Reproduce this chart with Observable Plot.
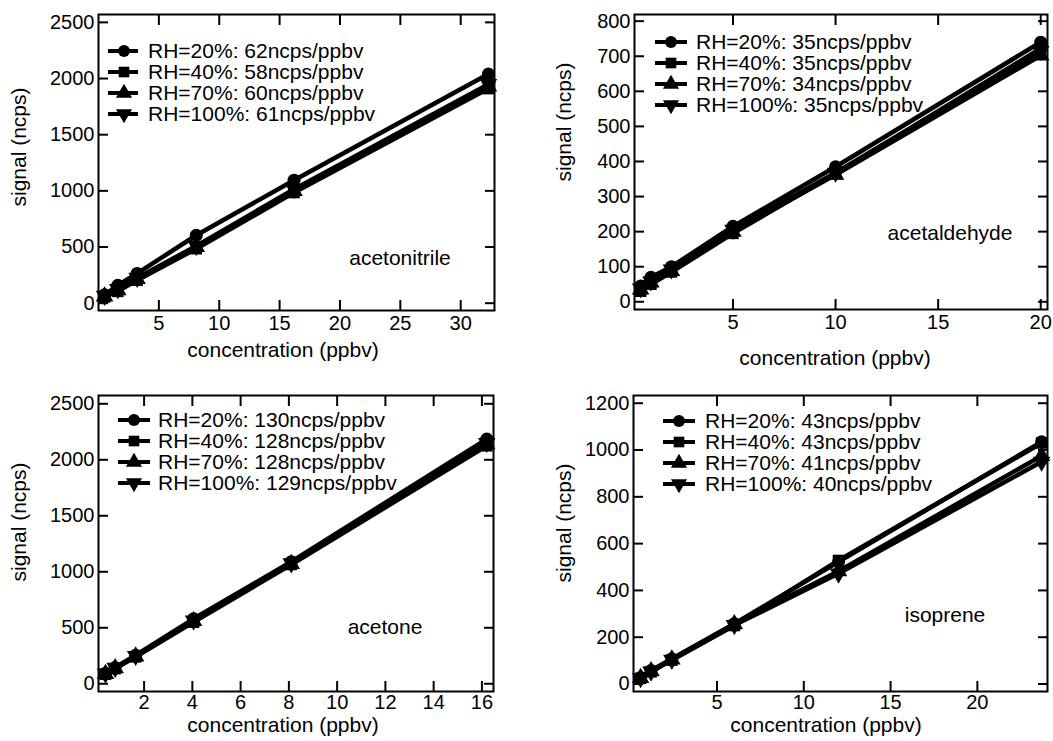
<!DOCTYPE html>
<html><head><meta charset="utf-8">
<script src="https://cdn.jsdelivr.net/npm/d3@7"></script>
<script src="https://cdn.jsdelivr.net/npm/@observablehq/plot@0.6"></script>
<style>
body{margin:0;background:#fff;font-family:"Liberation Sans",Arial,Helvetica,sans-serif;color:#000;}
#fig{position:relative;width:1053px;height:741px;overflow:hidden;background:#fff;}
.panel{position:absolute;}
.lbl{position:absolute;font-size:21px;white-space:nowrap;line-height:0.85;transform:translate(-50%,-50%);}
.ylbl{position:absolute;font-size:21px;white-space:nowrap;line-height:1;transform:translate(-50%,-50%) rotate(-90deg);}
.leg{position:absolute;font-size:21px;white-space:nowrap;line-height:0.9;transform:translateY(-50%);}
.legsym{position:absolute;overflow:visible;}
</style>
</head><body>
<div id="fig"></div>
<script>
// ---------- data ----------
const seriesNames = ["RH=20%", "RH=40%", "RH=70%", "RH=100%"];

const acetonitrileConc = [0.5, 1.6, 3.2, 8.1, 16.2, 32.3];
const acetonitrileRH20 = [75, 160, 265, 605, 1095, 2040];
const acetonitrileRH40 = [55, 105, 205, 485, 985, 1910];
const acetonitrileRH70 = [60, 115, 215, 500, 1000, 1930];
const acetonitrileRH100 = [65, 125, 225, 510, 1015, 1950];
const acetonitrileSens = [62, 58, 60, 61];

const acetaldehydeConc = [0.5, 1, 2, 5, 10, 20];
const acetaldehydeRH20 = [45, 70, 100, 215, 385, 740];
const acetaldehydeRH40 = [30, 50, 85, 195, 365, 722];
const acetaldehydeRH70 = [35, 55, 88, 200, 362, 702];
const acetaldehydeRH100 = [38, 58, 92, 205, 368, 715];
const acetaldehydeSens = [35, 35, 34, 35];

const acetoneConc = [0.4, 0.8, 1.65, 4.05, 8.1, 16.2];
const acetoneRH20 = [95, 145, 255, 580, 1090, 2185];
const acetoneRH40 = [85, 135, 240, 550, 1065, 2125];
const acetoneRH70 = [88, 140, 245, 560, 1070, 2140];
const acetoneRH100 = [90, 142, 248, 565, 1075, 2150];
const acetoneSens = [130, 128, 128, 129];

const isopreneConc = [0.6, 1.2, 2.4, 6, 12, 23.7];
const isopreneRH20 = [28, 58, 108, 258, 522, 1035];
const isopreneRH40 = [24, 52, 102, 250, 528, 1030];
const isopreneRH70 = [26, 55, 105, 256, 482, 975];
const isopreneRH100 = [25, 53, 103, 252, 472, 950];
const isopreneSens = [43, 43, 41, 40];

const xTicks1 = [5, 10, 15, 20, 25, 30];
const yTicks1 = [0, 500, 1000, 1500, 2000, 2500];
const xTicks2 = [5, 10, 15, 20];
const yTicks2 = [0, 100, 200, 300, 400, 500, 600, 700, 800];
const xTicks3 = [2, 4, 6, 8, 10, 12, 14, 16];
const yTicks3 = [0, 500, 1000, 1500, 2000, 2500];
const xTicks4 = [5, 10, 15, 20];
const yTicks4 = [0, 200, 400, 600, 800, 1000, 1200];

const xLabel = "concentration (ppbv)";
const yLabel = "signal (ncps)";

// ---------- symbols ----------
const triangleDown = {
  draw(context, size) {
    const y = -Math.sqrt(size / (Math.sqrt(3) * 3));
    context.moveTo(0, -y * 2);
    context.lineTo(-Math.sqrt(3) * y, y);
    context.lineTo(Math.sqrt(3) * y, y);
    context.closePath();
  }
};
const symbols = ["circle", "square", "triangle", triangleDown];
const d3symbols = [d3.symbolCircle, d3.symbolSquare, d3.symbolTriangle, triangleDown];

// ---------- panels ----------
const panels = [
  {name: "acetonitrile", conc: acetonitrileConc, series: [acetonitrileRH20, acetonitrileRH40, acetonitrileRH70, acetonitrileRH100], sens: acetonitrileSens,
   xTicks: xTicks1, yTicks: yTicks1,
   layout: {left: 0, top: 0, w: 526, h: 370, mL: 98, mR: 32, mT: 14, mB: 60, xd: [0, 32.8], yd: [-65, 2570], xpad: 15,
            leg: {x0: 108, x1: 138, mx: 124, tx: 148, ys: [51, 72, 93, 114]},
            name: [400, 258], xl: [283, 350], yl: [18, 147]}},
  {name: "acetaldehyde", conc: acetaldehydeConc, series: [acetaldehydeRH20, acetaldehydeRH40, acetaldehydeRH70, acetaldehydeRH100], sens: acetaldehydeSens,
   xTicks: xTicks2, yTicks: yTicks2,
   layout: {left: 526, top: 0, w: 527, h: 370, mL: 108, mR: 6, mT: 14, mB: 61, xd: [0.2, 20.33], yd: [-22, 819], xpad: 15,
            leg: {x0: 655, x1: 687, mx: 671, tx: 696, ys: [42, 63, 84, 105]},
            name: [950, 233], xl: [835, 358], yl: [563, 122]}},
  {name: "acetone", conc: acetoneConc, series: [acetoneRH20, acetoneRH40, acetoneRH70, acetoneRH100], sens: acetoneSens,
   xTicks: xTicks3, yTicks: yTicks3,
   layout: {left: 0, top: 370, w: 526, h: 371, mL: 98, mR: 33, mT: 25, mB: 50, xd: [0.11, 16.48], yd: [-69, 2574], xpad: 13,
            leg: {x0: 118, x1: 150, mx: 134, tx: 158, ys: [420, 441, 462, 483]},
            name: [385, 627], xl: [283, 725], yl: [18, 522]}},
  {name: "isoprene", conc: isopreneConc, series: [isopreneRH20, isopreneRH40, isopreneRH70, isopreneRH100], sens: isopreneSens,
   xTicks: xTicks4, yTicks: yTicks4,
   layout: {left: 526, top: 370, w: 527, h: 371, mL: 107, mR: 6, mT: 25, mB: 50, xd: [0.19, 24.04], yd: [-32, 1233], xpad: 13,
            leg: {x0: 663, x1: 695, mx: 679, tx: 705, ys: [421, 442, 463, 484]},
            name: [945, 615], xl: [826, 725], yl: [563, 523]}}
];

const fig = document.getElementById("fig");
const fmt = d => String(d);

function addDiv(cls, text, x, y) {
  const d = document.createElement("div");
  d.className = cls;
  d.textContent = text;
  d.style.left = x + "px";
  d.style.top = y + "px";
  fig.appendChild(d);
  return d;
}

panels.forEach(p => {
  const L = p.layout;
  const seriesData = p.series.map((ys, si) => ys.map((y, i) => ({x: p.conc[i], y, s: seriesNames[si]})));
  const marks = [
    Plot.frame({stroke: "black", strokeWidth: 2}),
    Plot.axisX(p.xTicks, {anchor: "bottom", tickSize: -10, tickPadding: L.xpad, strokeWidth: 2, label: null, tickFormat: fmt, fontSize: 20}),
    Plot.axisX(p.xTicks, {anchor: "top", tickSize: -10, tickFormat: () => "", strokeWidth: 2, label: null}),
    Plot.axisY(p.yTicks, {anchor: "left", tickSize: -10, tickPadding: 14, strokeWidth: 2, label: null, tickFormat: fmt, fontSize: 20}),
    Plot.axisY(p.yTicks, {anchor: "right", tickSize: -10, tickFormat: () => "", strokeWidth: 2, label: null})
  ];
  seriesData.slice().reverse().forEach((sd, ri) => {
    const si = seriesData.length - 1 - ri;
    marks.push(Plot.line(sd, {x: "x", y: "y", stroke: "black", strokeWidth: 4.5}));
    marks.push(Plot.dot(sd, {x: "x", y: "y", symbol: symbols[si], fill: "black", stroke: "none", r: 6.5}));
  });
  const chart = Plot.plot({
    width: L.w, height: L.h,
    marginLeft: L.mL, marginRight: L.mR, marginTop: L.mT, marginBottom: L.mB,
    x: {type: "linear", domain: L.xd},
    y: {type: "linear", domain: L.yd},
    style: {fontFamily: "'Liberation Sans', Arial, Helvetica, sans-serif", fontSize: "20px", color: "black", background: "transparent", overflow: "visible"},
    marks
  });
  chart.classList.add("panel");
  chart.style.left = L.left + "px";
  chart.style.top = L.top + "px";
  fig.appendChild(chart);

  // legend
  const lg = L.leg;
  lg.ys.forEach((yy, si) => {
    const svg = d3.create("svg").attr("class", "legsym")
      .attr("width", lg.x1 - lg.x0 + 20).attr("height", 24)
      .style("left", (lg.x0 - 10) + "px").style("top", (yy - 12) + "px");
    svg.append("line").attr("x1", 10).attr("x2", 10 + lg.x1 - lg.x0).attr("y1", 12).attr("y2", 12)
      .attr("stroke", "black").attr("stroke-width", 4);
    svg.append("path").attr("d", d3.symbol().type(d3symbols[si]).size(Math.PI * 36)())
      .attr("transform", `translate(${lg.mx - lg.x0 + 10},12)`).attr("fill", "black");
    fig.appendChild(svg.node());
    addDiv("leg", `${seriesNames[si]}: ${p.sens[si]}ncps/ppbv`, lg.tx, yy);
  });

  addDiv("lbl", p.name, L.name[0], L.name[1]);
  addDiv("lbl", xLabel, L.xl[0], L.xl[1]);
  addDiv("ylbl", yLabel, L.yl[0], L.yl[1]);
});
</script>
</body></html>
